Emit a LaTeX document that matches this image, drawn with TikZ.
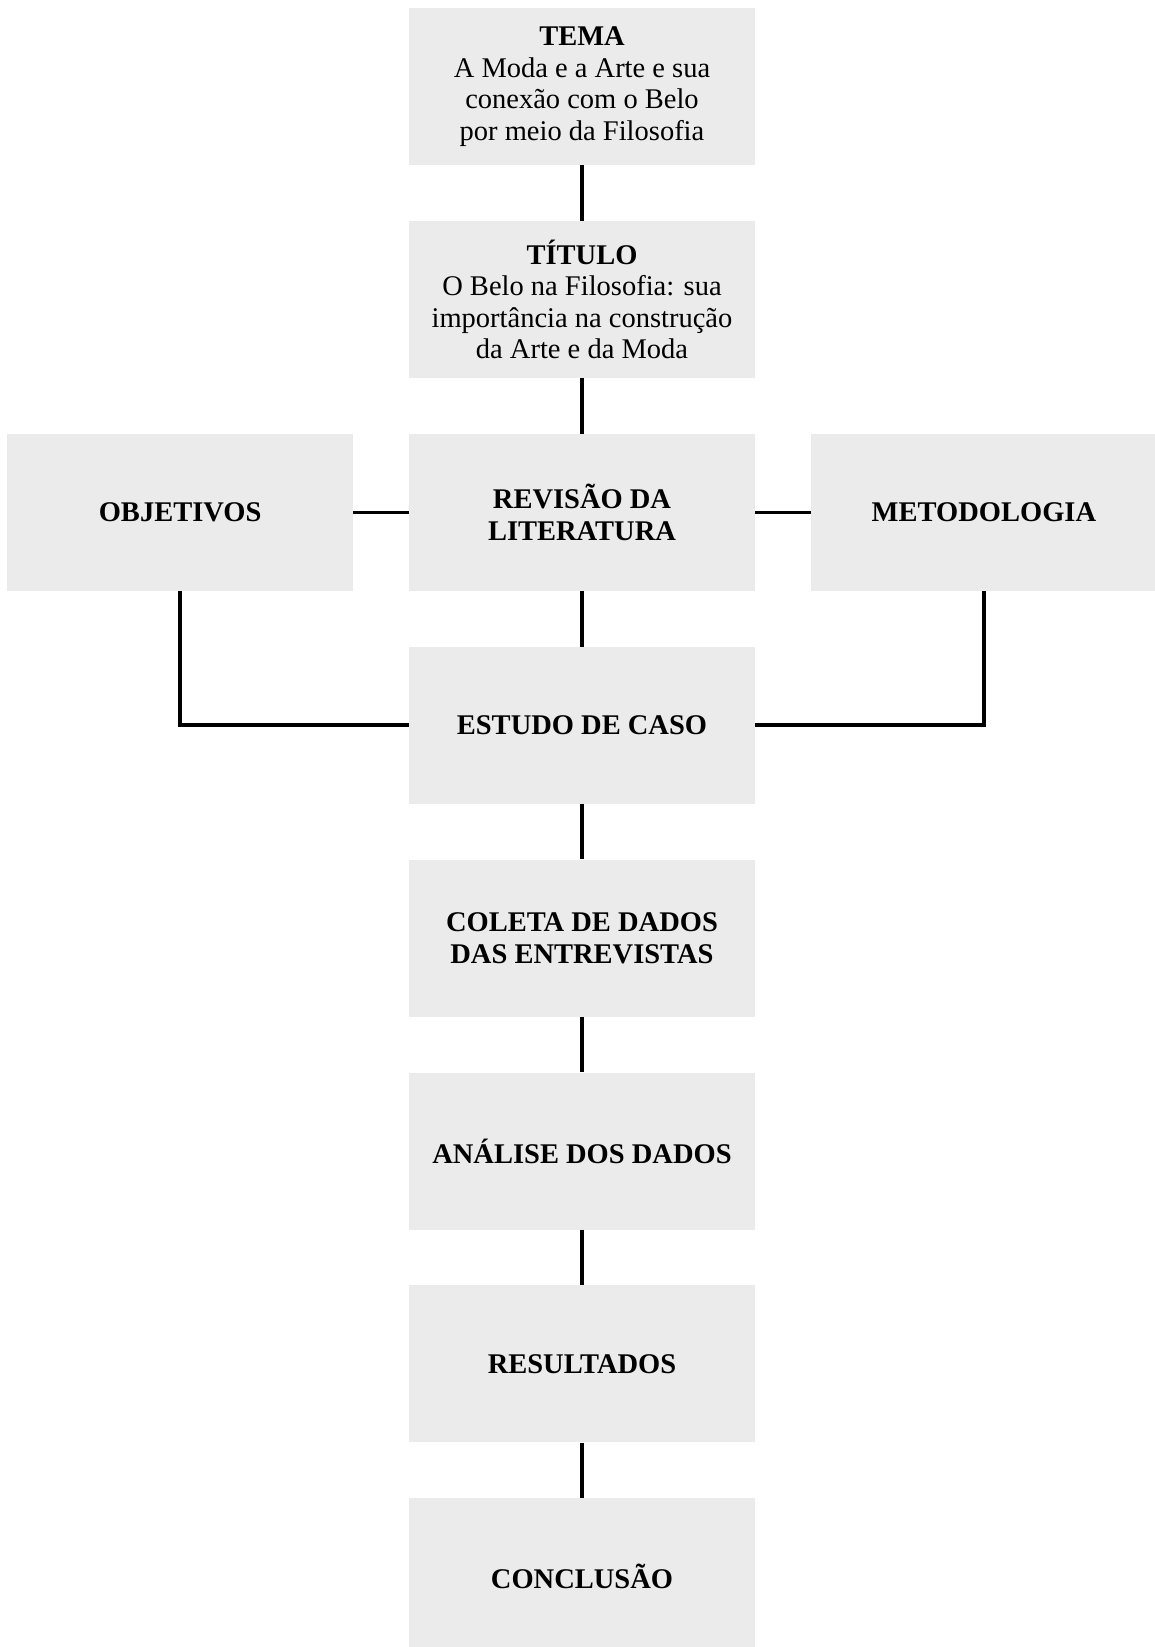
\documentclass[tikz,border=0pt]{standalone}
\usepackage{fontspec}
\setmainfont{Liberation Serif}
\usepackage{xcolor}
\usetikzlibrary{positioning}
\definecolor{boxgray}{HTML}{EBEBEB}

\begin{document}
\begin{tikzpicture}[node distance = 55.5pt and 55.5pt,inner sep=0pt,
  box/.style={rectangle,fill=boxgray,minimum width=346pt,minimum height=157pt,align=center,font=\fontsize{28.5}{31.5}\selectfont},
  boldbox/.style={box,font=\fontsize{28.5}{31.5}\selectfont\bfseries},
  link/.style={line width=3.5pt}]
\useasboundingbox (0,0) rectangle (1155pt,-1647pt);

\node[box] (tema) at (582pt,-86.5pt) {\textbf{TEMA}\\A Moda e a Arte e sua\\conexão com o Belo\\por meio da Filosofia};
\node[box] (titulo) [below = of tema] {\textbf{TÍTULO}\\O Belo na Filosofia: sua\\importância na construção\\da Arte e da Moda};
\node[boldbox] (revisao) [below = of titulo] {REVISÃO DA\\LITERATURA};
\node[boldbox] (objetivos) [left = of revisao] {OBJETIVOS};
\node[boldbox] (metodologia) [right = of revisao] {METODOLOGIA};
\node[boldbox] (estudo) [below = of revisao] {ESTUDO DE CASO};
\node[boldbox] (coleta) [below = of estudo] {COLETA DE DADOS\\DAS ENTREVISTAS};
\node[boldbox] (analise) [below = of coleta] {ANÁLISE DOS DADOS};
\node[boldbox] (resultados) [below = of analise] {RESULTADOS};
\node[boldbox] (conclusao) [below = of resultados] {CONCLUSÃO};

\draw[link] (tema) -- (titulo);
\draw[link] (titulo) -- (revisao);
\draw[link] (objetivos) -- (revisao);
\draw[link] (revisao) -- (metodologia);
\draw[link] (revisao) -- (estudo);
\draw[link] (objetivos.south) |- (estudo.west);
\draw[link] (metodologia.south) |- (estudo.east);
\draw[link] (estudo) -- (coleta);
\draw[link] (coleta) -- (analise);
\draw[link] (analise) -- (resultados);
\draw[link] (resultados) -- (conclusao);

\end{tikzpicture}
\end{document}
